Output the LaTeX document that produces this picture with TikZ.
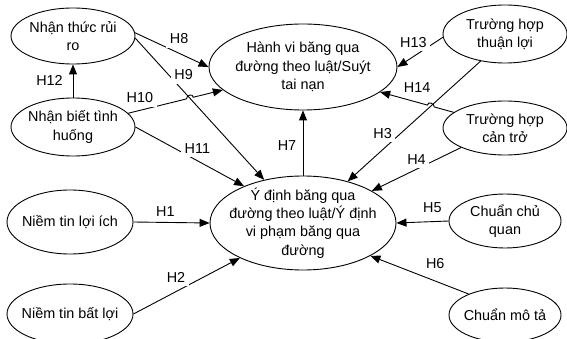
\documentclass[tikz,border=0pt]{standalone}
\usepackage{fontspec}
\setmainfont{Liberation Sans}
\usetikzlibrary{arrows.meta,positioning,shapes.geometric,intersections,calc}

\tikzset{
  factor/.style={draw,ellipse,line width=0.9pt,inner sep=0pt},
  hyp/.style={fill=white,inner sep=3.5pt},
}

\begin{document}
\begin{tikzpicture}[x=1pt,y=-1pt,on grid,line width=0.9pt,
    font=\fontsize{14.4pt}{18.3pt}\selectfont,
    >={Triangle[length=10pt,width=8pt]}]
  \useasboundingbox (0,0) rectangle (567,339);
  % left column
  \node[factor,minimum width=124pt,minimum height=56pt] (rr) at (73,36)
       [label={[align=center]center:{Nhận thức rủi\\ro}}] {};
  \node[factor,minimum width=124pt,minimum height=58pt] (nb) [below=91pt of rr]
       [label={[align=center]center:{Nhận biết tình\\huống}}] {};
  \node[factor,minimum width=126pt,minimum height=64pt] (li) at (70,222)
       [label={center:Niềm tin lợi ích}] {};
  \node[factor,minimum width=126pt,minimum height=60pt] (bl) [below=92pt of li]
       [label={center:Niềm tin bất lợi}] {};
  % middle
  \node[factor,minimum width=188pt,minimum height=86pt] (hv) at (303,67)
       [label={[align=center]center:{Hành vi băng qua\\đường theo luật/Suýt\\tai nạn}}] {};
  \node[factor,minimum width=186pt,minimum height=94pt] (yd) [below=156pt of hv]
       [label={[align=center]center:{Ý định băng qua\\đường theo luật/Ý định\\vi phạm băng qua\\đường}}] {};
  % right column
  \node[factor,minimum width=124pt,minimum height=58pt] (tl) at (505,34)
       [label={[align=center]center:{Trường hợp\\thuận lợi}}] {};
  \node[factor,minimum width=124pt,minimum height=54pt] (ct) [below=94pt of tl]
       [label={[align=center]center:{Trường hợp\\cản trở}}] {};
  \node[factor,minimum width=112pt,minimum height=54pt] (cq) [below=93pt of ct]
       [label={[align=center]center:{Chuẩn chủ\\quan}}] {};
  \node[factor,minimum width=112pt,minimum height=54pt] (mt) [below=94pt of cq]
       [label={center:Chuẩn mô tả}] {};

  % crossings with a line jump
  \path[name path=l9] (rr.-2) -- (yd.132);
  \path[name path=l10] (nb.14) -- (hv.196);
  \path[name path=l3] (tl.228) -- (yd.43);
  \path[name path=l14] (ct.163) -- (hv.-18);
  \path[name intersections={of=l9 and l10,by=j1}];
  \path[name intersections={of=l3 and l14,by=j2}];
  \coordinate (j1a) at ($(j1)!3.5pt!(nb.14)$);
  \coordinate (j1b) at ($(j1)!3.5pt!(hv.196)$);
  \coordinate (j2a) at ($(j2)!3.5pt!(ct.163)$);
  \coordinate (j2b) at ($(j2)!3.5pt!(hv.-18)$);

  \draw[->] (nb.14) -- node[hyp,pos=0.2,above=3.3pt] {H10} (j1a)
     .. controls ($(j1a)+(0,-4)$) and ($(j1b)+(0,-4)$) .. (j1b) -- (hv.196);
  \draw[->] (ct.163) -- (j2a)
     .. controls ($(j2a)+(0,-4)$) and ($(j2b)+(0,-4)$) .. (j2b)
     -- node[hyp,pos=0.22,above=5.6pt] {H14} (hv.-18);

  \path[->]
     (rr.3)      edge node[hyp,pos=0.6,above=5.3pt] {H8} (hv.west)
     (rr.-2)     edge node[hyp,pos=0.26,right=1.7pt] {H9} (yd.132)
     (nb.north)  edge node[hyp,pos=0.53,left=6.3pt] {H12} (rr.south)
     (nb.east)   edge node[hyp,pos=0.57,above=3pt] {H11} (yd.148)
     (yd.north)  edge node[hyp,pos=0.46,left=2.8pt] {H7} (hv.south)
     (tl.183)    edge node[hyp,pos=0.65,above=5.3pt] {H13} (hv.east)
     (tl.228)    edge node[hyp,pos=0.6,left=5pt] {H3} (yd.43)
     (ct.204)    edge node[hyp,pos=0.5,above=0.8pt] {H4} (yd.25)
     (cq.west)   edge node[hyp,pos=0.31,above=5.3pt] {H5} (yd.east)
     (mt.150)    edge node[hyp,pos=0.34,above=8.3pt] {H6} (yd.-26)
     (li.east)   edge node[hyp,pos=0.42,above=2.3pt] {H1} (yd.west)
     (bl.east)   edge node[hyp,pos=0.4,above=5.3pt] {H2} (yd.209)
  ;
\end{tikzpicture}
\end{document}
